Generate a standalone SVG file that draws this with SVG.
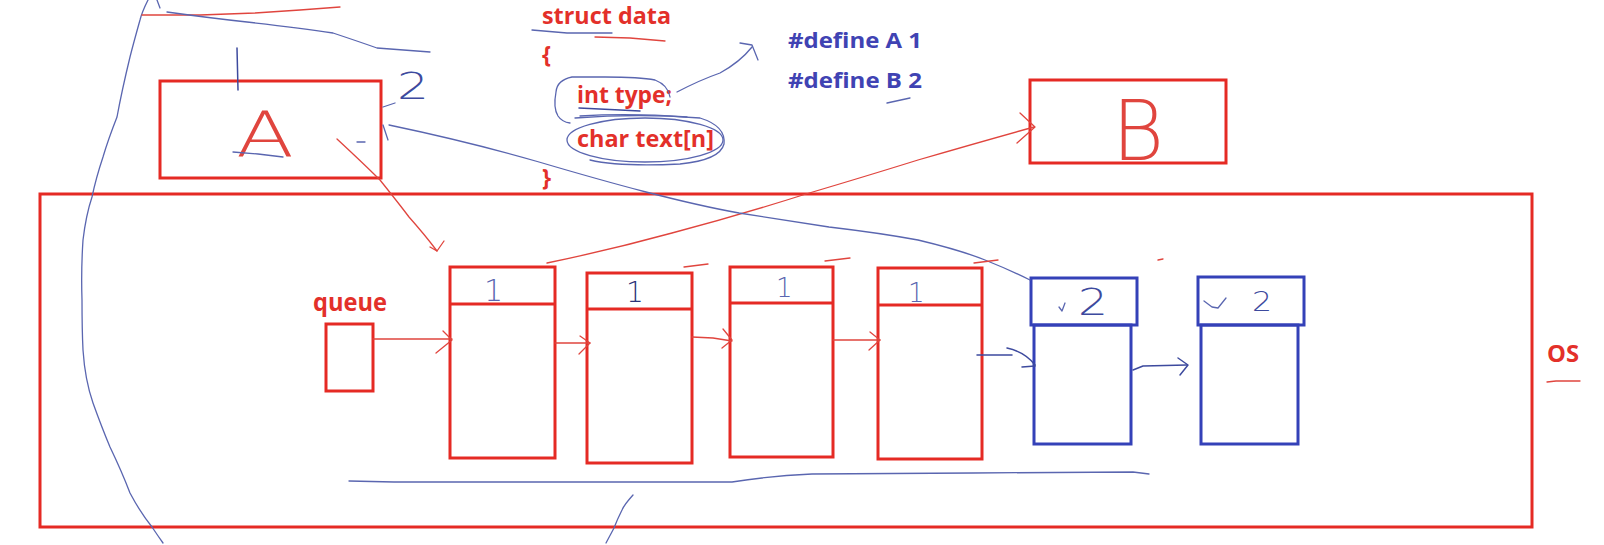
<svg xmlns="http://www.w3.org/2000/svg" width="1604" height="545" viewBox="0 0 1604 545">
<style>
  .bg{fill:#ffffff}
  .rbox{fill:none;stroke:#e52a24;stroke-width:3}
  .bbox{fill:none;stroke:#3441b8;stroke-width:3}
  .rt{font-family:"Open Sans","Liberation Sans",sans-serif;font-weight:700;fill:#e3302a}
  .bt{font-family:"Open Sans","Liberation Sans",sans-serif;font-weight:700;fill:#4043b3}
  .hand{font-family:"DejaVu Sans","Liberation Sans",sans-serif;font-weight:200}
  .rs{fill:none;stroke:#e0453e;stroke-width:1.3;stroke-linecap:round;stroke-linejoin:round}
  .bs{fill:none;stroke:#5a66b0;stroke-width:1.3;stroke-linecap:round;stroke-linejoin:round}
  .bsd{fill:none;stroke:#3d4a9e;stroke-width:1.5;stroke-linecap:round;stroke-linejoin:round}
</style>
<rect class="bg" x="0" y="0" width="1604" height="545"/>

<!-- code text -->
<g id="struct-code">
  <text class="rt" x="542" y="24" font-size="23" textLength="129" lengthAdjust="spacingAndGlyphs">struct data</text>
  <text class="rt" x="542" y="63" font-size="23">{</text>
  <text class="rt" x="577" y="103" font-size="23" textLength="95" lengthAdjust="spacingAndGlyphs">int type;</text>
  <text class="rt" x="577" y="147" font-size="23" textLength="137" lengthAdjust="spacingAndGlyphs">char text[n]</text>
  <text class="rt" x="542" y="186" font-size="23">}</text>
</g>
<g id="defines">
  <text class="bt" x="788" y="48" font-size="22" textLength="134" lengthAdjust="spacingAndGlyphs">#define A 1</text>
  <text class="bt" x="788" y="88" font-size="22" textLength="134" lengthAdjust="spacingAndGlyphs">#define B 2</text>
</g>

<!-- process A -->
<g id="node-A">
  <rect class="rbox" x="160" y="81" width="221" height="97"/>
  <text class="hand" x="236" y="156" font-size="62" fill="#e0453e" textLength="58" lengthAdjust="spacingAndGlyphs">A</text>
  <path class="bs" d="M233,152 L258,154 L283,157"/>
  <text class="hand" x="397" y="99" font-size="38" fill="#3d4a9e" textLength="32" lengthAdjust="spacingAndGlyphs">2</text>
</g>

<!-- process B -->
<g id="node-B">
  <rect class="rbox" x="1030" y="80" width="196" height="83"/>
  <text class="hand" x="1112" y="160" font-size="84" fill="#e0453e" textLength="52" lengthAdjust="spacingAndGlyphs">B</text>
</g>

<!-- OS -->
<g id="node-OS">
  <rect class="rbox" x="40" y="194" width="1492" height="333"/>
  <text class="rt" x="1547" y="362" font-size="24" textLength="32" lengthAdjust="spacingAndGlyphs">OS</text>
  <path class="rs" d="M1547,382 L1556,381 L1580,381"/>
</g>

<!-- queue -->
<g id="node-queue">
  <text class="rt" x="313" y="311" font-size="25" textLength="74" lengthAdjust="spacingAndGlyphs">queue</text>
  <rect class="rbox" x="326" y="324" width="47" height="67"/>
</g>

<g id="node-1">
  <rect class="rbox" x="450" y="267" width="105" height="191"/>
  <line class="rbox" x1="450" y1="304" x2="555" y2="304"/>
  <text class="hand" x="484" y="301" font-size="30" fill="#5a66b0">1</text>
</g>
<g id="node-2">
  <rect class="rbox" x="587" y="273" width="105" height="190" stroke="#d9281f"/>
  <line class="rbox" x1="587" y1="309" x2="692" y2="309"/>
  <text class="hand" x="626" y="302" font-size="28" fill="#2b3378">1</text>
</g>
<g id="node-3">
  <rect class="rbox" x="730" y="267" width="103" height="190"/>
  <line class="rbox" x1="730" y1="303" x2="833" y2="303"/>
  <text class="hand" x="776" y="297" font-size="26" fill="#5a66b0">1</text>
</g>
<g id="node-4">
  <rect class="rbox" x="878" y="268" width="104" height="191"/>
  <line class="rbox" x1="878" y1="305" x2="982" y2="305"/>
  <text class="hand" x="908" y="302" font-size="26" fill="#5a66b0">1</text>
</g>
<g id="node-5">
  <rect class="bbox" x="1031" y="278" width="106" height="47"/>
  <rect class="bbox" x="1034" y="325" width="97" height="119"/>
  <path class="bs" d="M1059,307 L1062,311 L1065,303"/>
  <text class="hand" x="1078" y="315" font-size="38" fill="#3d4a9e" textLength="30" lengthAdjust="spacingAndGlyphs">2</text>
</g>
<g id="node-6">
  <rect class="bbox" x="1198" y="277" width="106" height="48"/>
  <rect class="bbox" x="1201" y="325" width="97" height="119"/>
  <path class="bs" d="M1204,301 L1212,307 L1218,308 L1226,298"/>
  <text class="hand" x="1252" y="311" font-size="27" fill="#3d4a9e" textLength="20" lengthAdjust="spacingAndGlyphs">2</text>
</g>

<!-- connectors and annotation strokes -->
<g id="connectors">
  <!-- queue -> node1 -->
  <path class="rs" d="M373,339 L452,339"/>
  <path class="rs" d="M443,331 L452,340 L436,353"/>
  <!-- node1 -> node2 -->
  <path class="rs" d="M555,343 L590,343"/>
  <path class="rs" d="M580,336 L590,343 L579,354"/>
  <!-- node2 -> node3 -->
  <path class="rs" d="M692,337 L713,338 L732,341"/>
  <path class="rs" d="M723,329 L732,340 L722,348"/>
  <!-- node3 -> node4 -->
  <path class="rs" d="M833,340 L880,340"/>
  <path class="rs" d="M870,332 L880,340 L869,350"/>
  <!-- node4 -> node5 -->
  <path class="bsd" d="M977,355 L1012,355"/>
  <path class="bsd" d="M1007,348 Q1025,352 1035,365"/>
  <path class="bsd" d="M1022,367 L1035,366"/>
  <!-- node5 -> node6 -->
  <path class="bsd" d="M1133,370 L1143,366 L1187,365"/>
  <path class="bsd" d="M1178,358 L1188,365 L1180,375"/>
  <!-- node1 -> B (red curve) -->
  <path class="rs" d="M547,263 Q610,250 672,233 Q740,215 806,194 Q870,175 918,160 Q980,142 1034,127"/>
  <path class="rs" d="M1020,113 L1035,127 L1017,143"/>
  <!-- A -> queue area (red) -->
  <path class="rs" d="M337,139 Q365,165 380,180 Q400,205 409,217 Q425,235 437,251"/>
  <path class="rs" d="M430,247 L437,251 L444,241"/>
  <!-- A -> node5 (blue long curve) -->
  <path class="bs" d="M389,125 Q470,142 539,162 Q600,180 646,192 Q700,206 739,213 Q790,221 829,227 Q880,233 918,240 Q960,250 985,260 Q1010,270 1030,280"/>
  <!-- int type -> define arrow -->
  <path class="bs" d="M677,92 Q700,80 720,73 Q740,62 752,47"/>
  <path class="bs" d="M740,43 L752,45 L758,60"/>
  <!-- loop around int type -->
  <path class="bs" d="M670,97 Q668,85 655,80 Q640,77 605,77 L572,77 Q557,80 556,92 Q553,108 558,116 Q562,122 570,123"/>
  <!-- ellipse around char text[n] -->
  <ellipse class="bs" cx="645" cy="140" rx="78" ry="22"/>
  <path class="bs" d="M575,118 Q640,113 700,118 Q726,126 724,144 Q720,160 680,164 Q620,167 590,160"/>
  <path class="bsd" d="M579,108 L620,110 L640,111"/>
  <path class="bs" d="M580,116 Q630,113 687,117"/>
  <!-- underlines struct data -->
  <path class="bs" d="M532,30 L567,33 L612,33"/>
  <path class="rs" d="M595,37 L630,38 L665,41"/>
  <path class="bs" d="M887,103 L910,98"/>
  <!-- left big blue curve -->
  <path class="bs" d="M148,0 Q142,12 140,20 Q133,45 130,57 Q122,90 117,117 Q108,140 103,157 Q96,178 92,197 Q86,215 83,240 Q81,270 82,300 Q82,330 83,350 Q85,380 93,403 Q102,428 110,447 Q122,472 130,493 Q140,512 152,527 Q158,536 163,543"/>
  <path class="bs" d="M157,0 L160,8"/>
  <!-- top strokes -->
  <path class="rs" d="M142,15 L200,15 L255,13 L300,10 L340,7"/>
  <path class="bs" d="M167,12 Q210,18 247,22 Q300,28 333,33 Q360,42 377,48 Q405,50 430,52"/>
  <!-- vertical stroke into A -->
  <path class="bsd" d="M237,48 L238,90"/>
  <!-- small marks near A -->
  <path class="bs" d="M383,107 L395,103"/>
  <path class="bs" d="M383,125 L388,140"/>
  <path class="bs" d="M357,142 L365,142"/>
  <!-- bottom long blue line -->
  <path class="bs" d="M349,481 L394,482 L732,482 Q770,476 812,474 L973,473 L1133,472 L1149,474"/>
  <!-- short blue stroke at bottom -->
  <path class="bs" d="M633,495 Q624,505 622,510 Q617,520 614,528 L606,543"/>
  <!-- small red dashes above nodes -->
  <path class="rs" d="M684,267 L708,264"/>
  <path class="rs" d="M825,261 L850,258"/>
  <path class="rs" d="M974,263 L998,260"/>
  <path class="rs" d="M1158,260 L1163,259"/>
</g>
</svg>
